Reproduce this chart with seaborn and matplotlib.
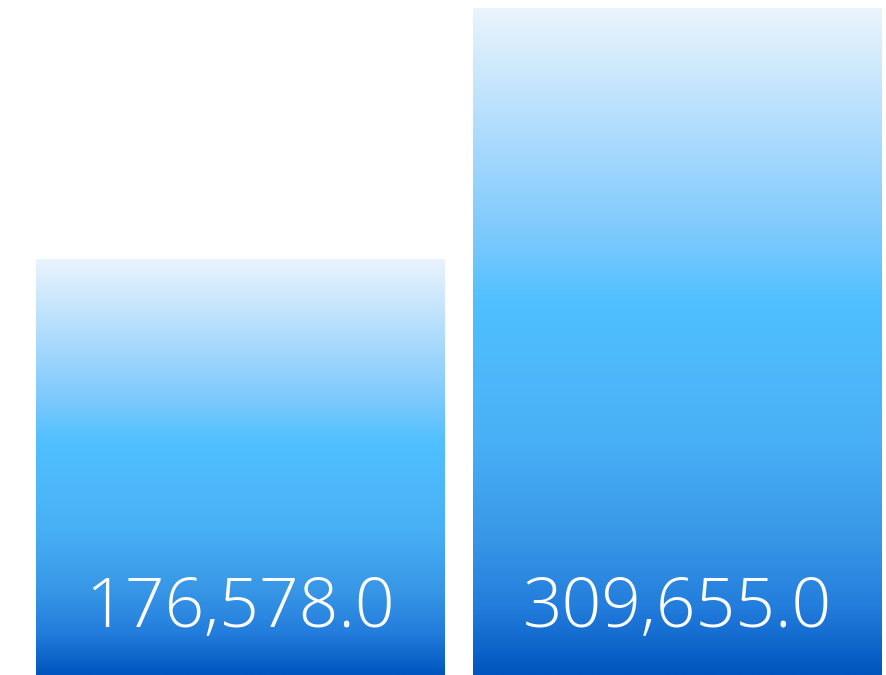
import numpy as np
import pandas as pd
import seaborn as sns
import matplotlib.pyplot as plt
from matplotlib.colors import LinearSegmentedColormap

categories = ['A', 'B']
values = [176578.0, 309655.0]
# the chart's floor sits below zero
baseline = -44000.0

grad_stops = [(0.0, '#EAF4FD'), (0.2, '#AADAFC'), (0.35, '#78C8FD'),
              (0.44, '#50C0FF'), (0.65, '#48B0F5'), (0.8, '#3796E6'),
              (0.9, '#237DDC'), (1.0, '#0055BE')]

sns.set_theme(style='white')
plt.rcParams['font.family'] = ['Open Sans', 'DejaVu Sans']

df = pd.DataFrame({'cat': categories, 'val': values})
df['span'] = df['val'] - baseline

fig = plt.figure(figsize=(8.86, 6.75), dpi=100)
ax = fig.add_axes([36 / 886, 0, 845 / 886, 667 / 675])

sns.barplot(data=df, x='cat', y='span', bottom=baseline, width=0.934,
            color='white', linewidth=0, ax=ax)

ax.axis('off')

cmap = LinearSegmentedColormap.from_list('bluegrad', grad_stops)
grad = np.linspace(0, 1, 256).reshape(-1, 1)

for i, patch in enumerate(ax.patches):
    x0, y0 = patch.get_x(), patch.get_y()
    w, h = patch.get_width(), patch.get_height()
    im = ax.imshow(grad, cmap=cmap, aspect='auto', origin='upper',
                   extent=(x0, x0 + w, y0, y0 + h), zorder=3)
    im.set_clip_path(patch)
    ax.annotate(f'{values[i]:,.1f}', xy=(x0 + w / 2, 0),
                xycoords=('data', 'axes fraction'), xytext=(0, 34.5),
                textcoords='offset points', ha='center', va='baseline',
                color='white', fontsize=50, fontweight='light', zorder=4)

ax.set_xlim(-0.467, 1.467)
ax.set_ylim(baseline, max(values))

fig.savefig('out.png', dpi=100)
